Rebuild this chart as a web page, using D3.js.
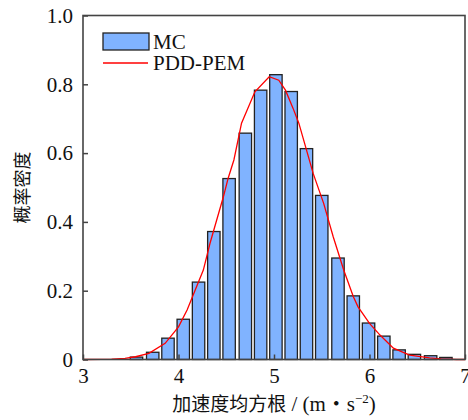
<!DOCTYPE html>
<html>
<head>
<meta charset="utf-8">
<script src="https://cdn.jsdelivr.net/npm/d3@7"></script>
<style>
  body { margin: 0; background: #fff; }
  svg text { font-family: 'Liberation Serif', 'Noto Sans CJK SC', serif; fill: #111; }
</style>
</head>
<body>
<svg id="area" width="468" height="420"></svg>
<script>
// histogram bins (centre of each bar) and MC density
const binCenters = [3.56, 3.73, 3.89, 4.05, 4.21, 4.37, 4.53, 4.70, 4.86, 5.02,
  5.18, 5.34, 5.50, 5.67, 5.83, 5.99, 6.15, 6.31, 6.47, 6.64, 6.80];
const mcDensity = [0.007, 0.021, 0.062, 0.117, 0.225, 0.372, 0.526, 0.658, 0.783, 0.828,
  0.779, 0.613, 0.477, 0.295, 0.185, 0.106, 0.068, 0.028, 0.015, 0.011, 0.006];

// PDD-PEM curve
const pemX = [3.0, 3.2, 3.3, 3.44, 3.55, 3.69, 3.86, 4.00, 4.09, 4.26, 4.33, 4.47, 4.52, 4.58,
  4.66, 4.80, 4.95, 5.05, 5.12, 5.20, 5.26, 5.41, 5.52, 5.62, 5.73, 5.83, 5.88, 6.00,
  6.11, 6.25, 6.42, 6.63, 6.75, 6.91, 7.0];
const pemY = [0.000, 0.0005, 0.001, 0.003, 0.008, 0.018, 0.047, 0.095, 0.144, 0.260, 0.338, 0.473, 0.527, 0.580,
  0.687, 0.778, 0.822, 0.812, 0.783, 0.730, 0.687, 0.541, 0.454, 0.357, 0.260, 0.183, 0.153, 0.105,
  0.071, 0.033, 0.013, 0.005, 0.002, 0.000, 0.000];

const xTicks = [3, 4, 5, 6, 7];
const yTicks = [0, 0.2, 0.4, 0.6, 0.8, 1.0];
const legendLabels = ['MC', 'PDD-PEM'];
const xTitleCjk = '加速度均方根';
const xTitleUnit = ' / (m・s';
const yTitle = '概率密度';

const binWidth = 0.13;
const margin = { top: 15.5, right: 3, bottom: 60.5, left: 83 };
const width = 468;
const height = 420;

const svg = d3.select('#area');

const x = d3.scaleLinear().domain([3, 7]).range([margin.left, width - margin.right]);
const y = d3.scaleLinear().domain([0, 1]).range([height - margin.bottom, margin.top]);

// bars
svg.append('g')
  .selectAll('rect')
  .data(binCenters)
  .join('rect')
  .attr('x', (d) => x(d - binWidth / 2))
  .attr('y', (d, i) => y(mcDensity[i]))
  .attr('width', (d) => x(d + binWidth / 2) - x(d - binWidth / 2))
  .attr('height', (d, i) => y(0) - y(mcDensity[i]))
  .attr('fill', '#80b3ff')
  .attr('stroke', '#222')
  .attr('stroke-width', 1.3);

// red curve
const line = d3.line()
  .x((d) => x(d))
  .y((d, i) => y(pemY[i]));

svg.append('path')
  .attr('d', line(pemX))
  .attr('fill', 'none')
  .attr('stroke', '#ff0000')
  .attr('stroke-width', 1.3);

// axes, ticks inward
const xAxis = d3.axisBottom(x).tickValues(xTicks).tickSize(-5).tickPadding(9)
  .tickFormat(d3.format('d'));
const yAxis = d3.axisLeft(y).tickValues(yTicks).tickSize(-5).tickPadding(10)
  .tickFormat((d) => (d === 0 ? '0' : d.toFixed(1)));

const gx = svg.append('g')
  .attr('transform', `translate(0, ${y(0)})`)
  .call(xAxis);
const gy = svg.append('g')
  .attr('transform', `translate(${x(3)}, 0)`)
  .call(yAxis);

[gx, gy].forEach((g) => {
  g.select('.domain').remove();
  g.selectAll('line').attr('stroke', '#444').attr('stroke-width', 1.5);
  g.selectAll('text').style('font-size', '21px').attr('fill', '#111');
});
gx.selectAll('text').attr('dy', '0.71em');

// frame
svg.append('rect')
  .attr('x', x(3))
  .attr('y', y(1))
  .attr('width', x(7) - x(3))
  .attr('height', y(0) - y(1))
  .attr('fill', 'none')
  .attr('stroke', '#444')
  .attr('stroke-width', 1.6);

// legend
const lg = svg.append('g');
lg.append('rect')
  .attr('x', 103).attr('y', 33).attr('width', 46).attr('height', 17)
  .attr('fill', '#80b3ff').attr('stroke', '#222').attr('stroke-width', 1.3);
lg.append('line')
  .attr('x1', 103).attr('x2', 148).attr('y1', 63).attr('y2', 63)
  .attr('stroke', '#ff0000').attr('stroke-width', 1.3);
lg.selectAll('text')
  .data(legendLabels)
  .join('text')
  .attr('x', 153)
  .attr('y', (d, i) => 48.5 + i * 21.5)
  .style('font-size', '21px')
  .text((d) => d);

// axis titles
const xt = svg.append('text')
  .attr('x', (x(3) + x(7)) / 2)
  .attr('y', 411)
  .attr('text-anchor', 'middle');
xt.append('tspan').style('font-size', '19px').text(xTitleCjk);
xt.append('tspan').style('font-size', '21px').text(xTitleUnit);
xt.append('tspan').attr('dy', -8).style('font-size', '13px').text('−2');
xt.append('tspan').attr('dy', 8).style('font-size', '21px').text(')');

svg.append('text')
  .attr('transform', `translate(29, ${(y(0) + y(1)) / 2}) rotate(-90)`)
  .attr('text-anchor', 'middle')
  .style('font-size', '18px')
  .text(yTitle);
</script>
</body>
</html>
